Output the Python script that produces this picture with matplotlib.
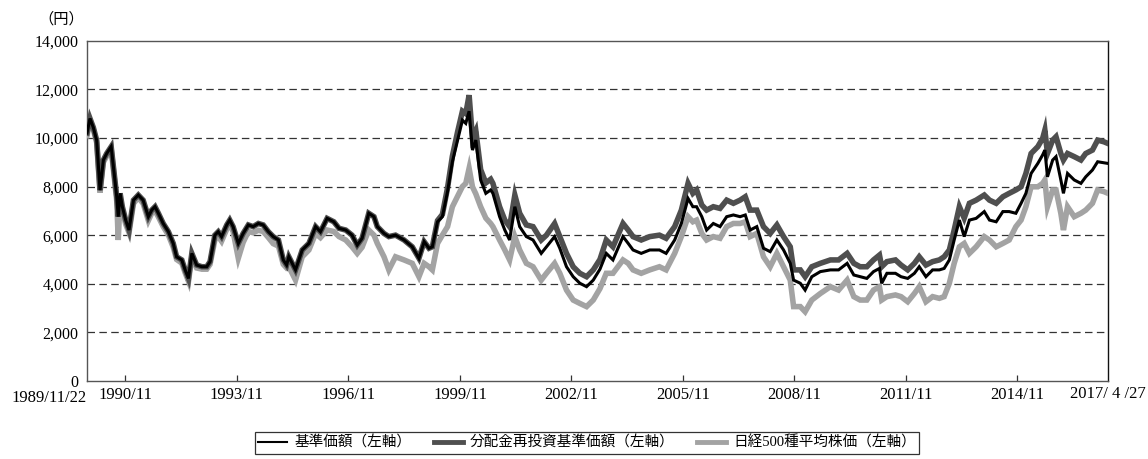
import matplotlib
matplotlib.use("Agg")
import matplotlib.pyplot as plt
from matplotlib.lines import Line2D

plt.rcParams['font.family'] = ['Liberation Serif', 'Noto Sans CJK JP', 'DejaVu Sans']

# ---- data (decimal years) ----
t_year = [
    1989.80, 1989.88, 1989.97, 1990.06, 1990.15, 1990.24, 1990.33, 1990.45, 1990.53, 1990.60,
    1990.64, 1990.69, 1990.75, 1990.84, 1990.93, 1991.05, 1991.18, 1991.31, 1991.45, 1991.54,
    1991.63, 1991.72, 1991.85, 1991.99, 1992.12, 1992.21, 1992.35, 1992.44, 1992.53, 1992.62,
    1992.75, 1992.89, 1993.02, 1993.11, 1993.24, 1993.33, 1993.42, 1993.56, 1993.64, 1993.73,
    1993.87, 1994.00, 1994.14, 1994.27, 1994.41, 1994.54, 1994.68, 1994.81, 1994.95, 1995.08,
    1995.17, 1995.23, 1995.41, 1995.59, 1995.77, 1995.95, 1996.08, 1996.26, 1996.44, 1996.58,
    1996.76, 1996.93, 1997.07, 1997.20, 1997.38, 1997.52, 1997.61, 1997.79, 1997.92, 1998.10,
    1998.33, 1998.55, 1998.73, 1998.87, 1999.00, 1999.09, 1999.23, 1999.36, 1999.50, 1999.63,
    1999.77, 1999.90, 1999.99, 2000.08, 2000.17, 2000.26, 2000.39, 2000.53, 2000.66, 2000.72,
    2000.90, 2001.04, 2001.17, 2001.31, 2001.44, 2001.62, 2001.80, 2002.02, 2002.16, 2002.38,
    2002.52, 2002.70, 2002.88, 2003.06, 2003.24, 2003.42, 2003.60, 2003.77, 2003.95, 2004.22,
    2004.36, 2004.49, 2004.71, 2004.94, 2005.20, 2005.38, 2005.61, 2005.79, 2005.97, 2006.10,
    2006.20, 2006.34, 2006.47, 2006.65, 2006.83, 2007.01, 2007.19, 2007.37, 2007.51, 2007.64,
    2007.82, 2008.00, 2008.18, 2008.36, 2008.54, 2008.72, 2008.81, 2008.99, 2009.12, 2009.30,
    2009.53, 2009.80, 2010.02, 2010.25, 2010.43, 2010.60, 2010.78, 2010.96, 2011.12, 2011.18,
    2011.32, 2011.55, 2011.70, 2011.88, 2012.06, 2012.19, 2012.37, 2012.55, 2012.73, 2012.86,
    2013.00, 2013.13, 2013.27, 2013.40, 2013.54, 2013.72, 2013.94, 2014.08, 2014.26, 2014.44,
    2014.61, 2014.79, 2014.93, 2015.06, 2015.20, 2015.38, 2015.51, 2015.57, 2015.64, 2015.78,
    2015.87, 2016.00, 2016.07, 2016.18, 2016.36, 2016.54, 2016.67, 2016.85, 2016.99, 2017.16,
    2017.27,
]

nav = [  # 基準価額
    10200, 10800, 10430, 9900, 7850, 9090, 9360, 9640, 8540, 7580,
    6760, 7720, 7170, 6620, 6210, 7440, 7650, 7440, 6760, 7030,
    7170, 6900, 6480, 6140, 5660, 5110, 4980, 4570, 4220, 5250,
    4770, 4700, 4700, 4910, 6000, 6140, 5940, 6420, 6620, 6350,
    5660, 6070, 6420, 6350, 6480, 6420, 6140, 5940, 5800, 4980,
    4770, 5110, 4570, 5390, 5660, 6350, 6140, 6690, 6550, 6280,
    6210, 6000, 5590, 5870, 6900, 6760, 6350, 6070, 5940, 6000,
    5800, 5520, 5050, 5730, 5460, 5520, 6550, 6760, 7790, 9020,
    9910, 10730, 10600, 11100, 9500, 9910, 8270, 7720, 7860, 7720,
    6760, 6210, 5800, 7170, 6350, 5940, 5800, 5250, 5520, 5940,
    5460, 4700, 4290, 4020, 3880, 4150, 4600, 5250, 4980, 5940,
    5660, 5390, 5250, 5390, 5390, 5250, 5800, 6480, 7510, 7170,
    7170, 6760, 6210, 6480, 6350, 6760, 6830, 6760, 6830, 6210,
    6350, 5460, 5320, 5800, 5390, 4840, 4150, 4020, 3740, 4290,
    4500, 4570, 4570, 4840, 4360, 4290, 4220, 4500, 4630, 4020,
    4430, 4430, 4290, 4220, 4430, 4700, 4290, 4570, 4570, 4630,
    4980, 5800, 6620, 5940, 6620, 6690, 6970, 6620, 6550, 6970,
    6970, 6900, 7310, 7720, 8540, 8950, 9300, 9500, 8400, 9090,
    9230, 8270, 7720, 8540, 8270, 8130, 8400, 8680, 9020, 8980,
    8950,
]

nav_reinvest = [  # 分配金再投資基準価額
    10200, 10800, 10430, 9900, 7850, 9090, 9360, 9640, 8540, 7580,
    6760, 7720, 7170, 6620, 6210, 7440, 7650, 7440, 6760, 7030,
    7170, 6900, 6480, 6140, 5660, 5110, 4980, 4570, 4220, 5250,
    4770, 4700, 4700, 4910, 6000, 6140, 5940, 6420, 6620, 6350,
    5660, 6070, 6420, 6350, 6480, 6420, 6140, 5940, 5800, 4980,
    4770, 5110, 4570, 5390, 5660, 6350, 6140, 6690, 6550, 6280,
    6210, 6000, 5590, 5870, 6900, 6760, 6350, 6070, 5940, 6000,
    5800, 5520, 5050, 5730, 5460, 5520, 6600, 6850, 7950, 9250,
    10250, 11100, 11000, 11760, 10000, 10300, 8700, 8150, 8300, 8130,
    7170, 6620, 6350, 7650, 6900, 6420, 6350, 5800, 6000, 6480,
    5940, 5250, 4700, 4430, 4290, 4570, 5000, 5800, 5520, 6480,
    6210, 5940, 5800, 5940, 6000, 5870, 6350, 7030, 8130, 7720,
    7860, 7240, 7030, 7170, 7100, 7440, 7310, 7440, 7580, 7030,
    7030, 6350, 6070, 6420, 5940, 5520, 4570, 4570, 4290, 4700,
    4840, 4980, 4980, 5250, 4840, 4700, 4700, 4980, 5180, 4700,
    4910, 4980, 4770, 4570, 4840, 5110, 4770, 4910, 4980, 5110,
    5390, 6210, 7170, 6700, 7310, 7440, 7650, 7440, 7310, 7580,
    7720, 7860, 7990, 8540, 9360, 9640, 9980, 10320, 9360, 9910,
    10050, 9360, 9090, 9360, 9230, 9090, 9360, 9500, 9910, 9840,
    9770,
]

nikkei500 = [  # 日経500種平均株価
    10100, 10700, 10350, 9800, 7750, 9000, 9250, 9550, 8400, 7400,
    5800, 7500, 7000, 6450, 6100, 7300, 7550, 7300, 6600, 6900,
    7000, 6750, 6350, 6000, 5500, 5000, 4850, 4450, 4100, 5100,
    4650, 4600, 4600, 4800, 5800, 5950, 5750, 6250, 6450, 6150,
    5050, 5700, 6150, 6100, 6200, 6150, 5900, 5650, 5550, 4800,
    4650, 4700, 4150, 5110, 5390, 6070, 5900, 6210, 6150, 5940,
    5800, 5520, 5250, 5500, 6210, 6000, 5660, 5110, 4570, 5110,
    4980, 4840, 4290, 4840, 4700, 4570, 5660, 6000, 6350, 7170,
    7600, 8000, 8130, 8750, 7990, 7700, 7170, 6700, 6480, 6350,
    5800, 5390, 4980, 5940, 5390, 4840, 4700, 4150, 4430, 4840,
    4430, 3740, 3330, 3190, 3060, 3330, 3800, 4430, 4430, 4980,
    4840, 4570, 4430, 4570, 4700, 4570, 5250, 5940, 6760, 6550,
    6620, 6070, 5800, 5940, 5870, 6350, 6480, 6480, 6550, 5940,
    6070, 5110, 4700, 5250, 4700, 4150, 3060, 3060, 2850, 3330,
    3600, 3880, 3740, 4150, 3470, 3330, 3330, 3740, 3880, 3330,
    3470, 3540, 3470, 3260, 3600, 3880, 3260, 3470, 3400, 3470,
    4020, 4840, 5520, 5660, 5250, 5520, 5940, 5800, 5520, 5660,
    5800, 6350, 6620, 7170, 7990, 7990, 8130, 8270, 7170, 7860,
    7860, 6900, 6210, 7170, 6760, 6900, 7030, 7310, 7860, 7790,
    7720,
]

series_labels = ['基準価額（左軸）', '分配金再投資基準価額（左軸）', '日経500種平均株価（左軸）']
y_ticks = [0, 2000, 4000, 6000, 8000, 10000, 12000, 14000]
x_tick_pos = [1990.833, 1993.833, 1996.833, 1999.833, 2002.833, 2005.833, 2008.833, 2011.833, 2014.833]
x_tick_labels = ['1990/11', '1993/11', '1996/11', '1999/11', '2002/11', '2005/11', '2008/11', '2011/11', '2014/11']
x_start_label = '1989/11/22'
x_end_label = '2017/ 4 /27'

# ---- figure ----
fig = plt.figure(figsize=(11.48, 4.59), dpi=100)
ax = fig.add_axes([0.0758, 0.170, 0.8894, 0.7413])

c_black = '#000000'
c_dark = '#4f4f4f'
c_light = '#a3a3a3'

ax.plot(t_year, nikkei500, color=c_light, lw=4.0, solid_joinstyle='miter', zorder=3)
ax.plot(t_year, nav_reinvest, color=c_dark, lw=4.0, solid_joinstyle='miter', zorder=4)
ax.plot(t_year, nav, color=c_black, lw=2.2, solid_joinstyle='miter', zorder=5)

ax.set_xlim(1989.80, 2017.27)
ax.set_ylim(0, 14000)

for v in y_ticks[1:-1]:
    ax.axhline(v, color='#333333', lw=0.9, linestyle=(0, (6, 3.5)), zorder=1)

ax.set_yticks(y_ticks)
ax.set_yticklabels([f'{v:,}' for v in y_ticks])
ax.tick_params(axis='y', length=0, pad=6, labelsize=11.5)

ax.set_xticks(x_tick_pos)
ax.set_xticklabels(x_tick_labels)
ax.tick_params(axis='x', direction='in', length=4.5, width=0.9, color='#333333', pad=4, labelsize=12)

for s in ax.spines.values():
    s.set_color('#555555')
    s.set_linewidth(1.0)
ax.spines['right'].set_color('#111111')

ax.text(0.0, -0.027, x_start_label, transform=ax.transAxes, ha='right', va='top', fontsize=12)
ax.text(1.0, -0.016, x_end_label, transform=ax.transAxes, ha='center', va='top', fontsize=12)

fig.text(61 / 1148, 1 - 19 / 459, '（円）', ha='center', va='center', fontsize=11)

handles = [
    Line2D([], [], color=c_black, lw=1.5),
    Line2D([], [], color=c_dark, lw=3.5),
    Line2D([], [], color=c_light, lw=3.5),
]
leg = fig.legend(handles, series_labels, loc='center', bbox_to_anchor=(587 / 1148, 1 - 443 / 459),
                 ncol=3, frameon=True, fancybox=False, fontsize=10.5, handlelength=2.0,
                 handletextpad=0.5, columnspacing=1.5, borderpad=0.25, borderaxespad=0)
leg.get_frame().set_edgecolor('#000000')
leg.get_frame().set_linewidth(0.9)

fig.savefig('out.png', dpi=100)
